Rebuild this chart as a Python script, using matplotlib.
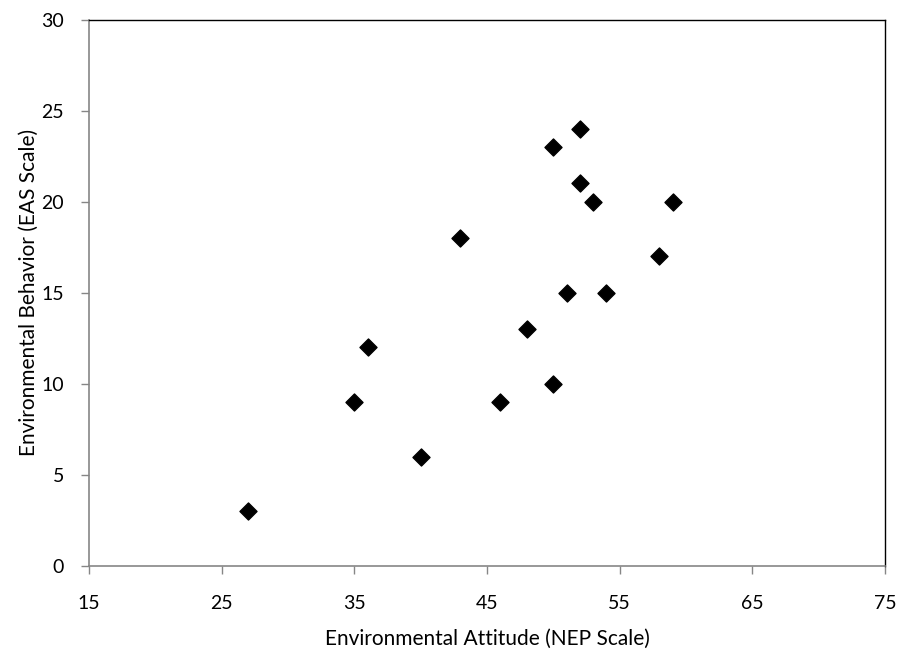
import matplotlib
matplotlib.use("Agg")
import matplotlib.pyplot as plt

# NEP score vs EAS score
nep = [27, 35, 36, 40, 43, 46, 48, 50, 50, 51, 52, 52, 53, 54, 58, 59]
eas = [3, 9, 12, 6, 18, 9, 13, 23, 10, 15, 24, 21, 20, 15, 17, 20]

x_ticks = [15, 25, 35, 45, 55, 65, 75]
y_ticks = [0, 5, 10, 15, 20, 25, 30]

plt.rcParams["font.family"] = ["Lato", "DejaVu Sans"]

fig = plt.figure(figsize=(9.01, 6.52), dpi=100)
ax = fig.add_axes([0.0988, 0.1319, 0.8834, 0.8381])

ax.scatter(nep, eas, marker="D", s=75, color="black", zorder=3)

ax.set_xlim(15, 75)
ax.set_ylim(0, 30)
ax.set_xticks(x_ticks)
ax.set_yticks(y_ticks)

for side in ["left", "bottom"]:
    ax.spines[side].set_color("#868686")
    ax.spines[side].set_linewidth(1.2)
for side in ["top", "right"]:
    ax.spines[side].set_color("black")
    ax.spines[side].set_linewidth(1.0)

ax.tick_params(axis="both", direction="out", length=6, width=1, color="#868686",
               labelsize=14, pad=15)
ax.tick_params(axis="y", pad=12)

ax.set_xlabel("Environmental Attitude (NEP Scale)", fontsize=15, labelpad=12)
ax.set_ylabel("Environmental Behavior (EAS Scale)", fontsize=15, labelpad=2)

fig.savefig("out.png", dpi=100)
